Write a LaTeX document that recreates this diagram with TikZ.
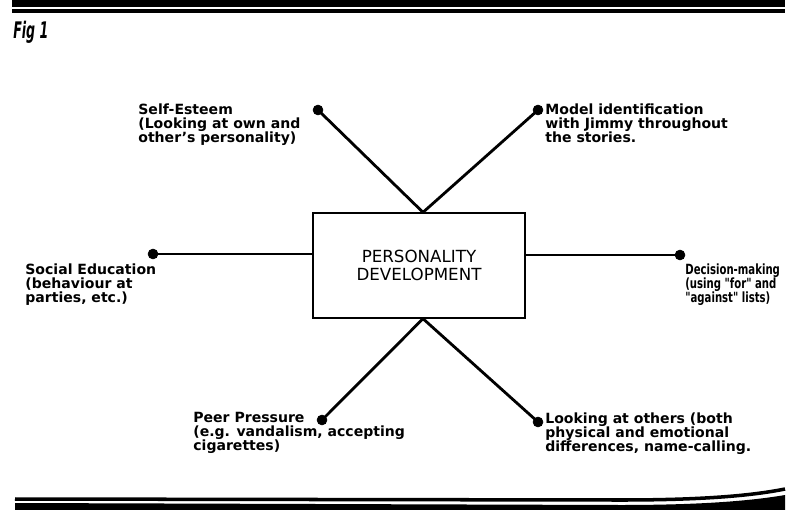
\documentclass[tikz,border=0pt]{standalone}
\usepackage{fontspec}
\setmainfont{DejaVu Sans}
\newfontfamily\narrowfont{DejaVu Sans}[FakeStretch=0.72]
\newfontfamily\figfont{DejaVu Sans}[FakeStretch=0.55]
\setlength{\lineskiplimit}{-20pt}
\tikzset{
    labeltext/.style={anchor=north west, inner sep=0pt, align=left,
        font=\bfseries\fontsize{8}{8}\selectfont},
    spoke/.style={line width=1.6pt, line join=round},
    flat/.style={line width=1pt},
}
\begin{document}
\begin{tikzpicture}[x=0.02cm, y=-0.02cm]
        \useasboundingbox (0,0) rectangle (787,510);

        % rules at the top
        \fill (12,0) rectangle (785,7);
        \draw[line width=2pt] (12,11) -- (785,11);

        \node[anchor=north west, inner sep=0pt,
            font=\figfont\bfseries\itshape\fontsize{13}{13}\selectfont] (Fig) at (13,21) {Fig 1};

        \node[draw, thick, minimum width=4.24cm, minimum height=2.1cm, align=center,
            font=\fontsize{9.5}{10.2}\selectfont] (P) at (419,265.5) {PERSONALITY\\DEVELOPMENT};

        \coordinate (Self) at (318,110);
        \coordinate (Model) at (538,110);
        \coordinate (Social) at (153,254);
        \coordinate (Decide) at (680,255);
        \coordinate (Peer) at (322,420);
        \coordinate (Look) at (538,422);

        \draw[spoke] (Self) -- ([xshift=0.08cm]P.north)
                        -- (Model);
        \draw[spoke] (Peer) -- ([xshift=0.08cm]P.south)
                        -- (Look);
        \draw[flat] (Social) -- (Social -| P.west);
        \draw[flat] (Decide) -- (Decide -| P.east);

        \filldraw (Self) circle (2.8pt);
        \filldraw (Model) circle (2.8pt);
        \filldraw (Social) circle (2.8pt);
        \filldraw (Decide) circle (2.8pt);
        \filldraw (Peer) circle (2.8pt);
        \filldraw (Look) circle (2.8pt);

        \node[labeltext] (SelfT) at (138,103) {Self-Esteem\\(Looking at own and\\other's personality)};
        \node[labeltext] (ModelT) at (545,103) {Model identification\\with Jimmy throughout\\the stories.};
        \node[labeltext] (SocialT) at (25,263) {Social Education\\(behaviour at\\parties, etc.)};
        \node[labeltext, font=\narrowfont\bfseries\fontsize{8}{8}\selectfont] (DecideT) at (685,263)
            {Decision-making\\(using "for" and\\"against" lists)};
        \node[labeltext] (PeerT) at (193,412) {Peer Pressure\\(e.g. vandalism, accepting\\cigarettes)};
        \node[labeltext] (LookT) at (545,412) {Looking at others (both\\physical and emotional\\differences, name-calling.};

        % rules at the bottom
        \draw[line width=2pt] (15,499) -- (620,500)
            .. controls (700,500) and (750,496) .. (785,489);
        \fill (15,503) -- (620,505)
            .. controls (700,505) and (750,501) .. (785,495)
            -- (785,510) -- (15,510) -- cycle;
    \end{tikzpicture}
\end{document}
